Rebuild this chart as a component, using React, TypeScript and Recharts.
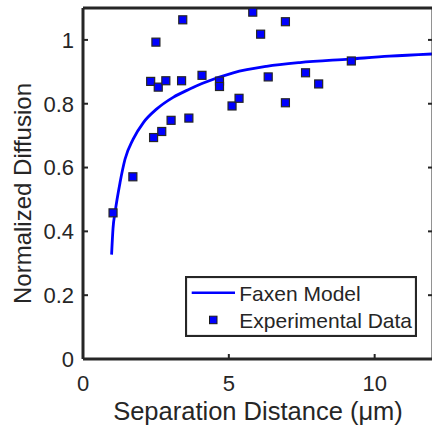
import React from 'react';
import { ComposedChart, Line, Scatter, XAxis, YAxis, Legend } from 'recharts';

// Faxen model curve
const curveX = [0.98, 1.03, 1.1, 1.27, 1.44, 1.72, 2.07, 2.52, 3.09, 3.66, 4.1, 5.15, 6.29, 7.43, 9.14, 10.5, 12];
const curveY = [0.327, 0.41, 0.46, 0.553, 0.626, 0.689, 0.741, 0.783, 0.82, 0.846, 0.864, 0.897, 0.917, 0.929, 0.94, 0.949, 0.956];

// Experimental data
const expX = [2.5, 3.42, 5.82, 6.09, 6.94, 2.32, 2.58, 2.84, 3.38, 4.08, 4.68, 4.68, 6.35, 7.63, 8.08, 9.2, 5.11, 5.35, 6.94, 3.63, 3.02, 2.7, 2.42, 1.71, 1.03];
const expY = [0.993, 1.063, 1.087, 1.018, 1.057, 0.87, 0.852, 0.872, 0.872, 0.889, 0.871, 0.854, 0.884, 0.897, 0.862, 0.934, 0.793, 0.817, 0.803, 0.755, 0.748, 0.713, 0.694, 0.571, 0.458];

const xTicks = [0, 5, 10];
const yTicks = [0, 0.2, 0.4, 0.6, 0.8, 1];

const curve = curveX.map((x, i) => ({ x, y: curveY[i] }));
const points = expX.map((x, i) => ({ x, y: expY[i] }));

const AX = '#262626';
const FONT = '"Liberation Sans", Arial, Helvetica, sans-serif';

const Square = (props: any) => {
  const { cx, cy } = props;
  if (cx == null || cy == null) return null;
  return <rect x={cx - 4} y={cy - 4} width={8} height={8} fill="#0000ff" stroke="#262626" strokeWidth={1.2} />;
};

const YLabel = (props: any) => {
  const vb = props.viewBox || { x: 0, y: 8, width: 83, height: 351 };
  const cx = vb.x + 31;
  const cy = vb.y + vb.height / 2 + 10;
  return (
    <text transform={`translate(${cx},${cy}) rotate(-90)`} textAnchor="middle" fill={AX} fontSize={24} fontFamily={FONT}>
      Normalized Diffusion
    </text>
  );
};

const renderLegend = () => (
  <svg width={232} height={61} style={{ display: 'block', fontFamily: FONT }}>
    <rect x={1} y={1} width={230} height={59} fill="#fff" stroke={AX} strokeWidth={2.2} />
    <line x1={6.7} x2={50} y1={16.7} y2={16.7} stroke="#0000ff" strokeWidth={2.5} />
    <text x={54.3} y={24.7} fontSize={21} fill={AX}>Faxen Model</text>
    <rect x={24.5} y={40.2} width={7.5} height={7.5} fill="#0000ff" stroke="#1a1a1a" strokeWidth={1} />
    <text x={54.3} y={52} fontSize={21} fill={AX}>Experimental Data</text>
  </svg>
);

export default function App() {
  return (
    <div style={{ position: 'absolute', left: 0, top: 0, width: 432, height: 433, overflow: 'hidden', background: '#fff', fontFamily: FONT }}>
      <ComposedChart width={434} height={433} margin={{ top: 7, right: 0, bottom: 0, left: 0 }}>
        <XAxis
          xAxisId="b"
          dataKey="x"
          type="number"
          domain={[0, 12]}
          ticks={xTicks}
          allowDataOverflow
          height={74}
          tickSize={-5}
          tickMargin={21}
          stroke={AX}
          axisLine={{ strokeWidth: 3 }}
          tickLine={{ strokeWidth: 2 }}
          tick={{ fill: AX, fontSize: 22, fontFamily: FONT }}
          label={{ value: 'Separation Distance (μm)', position: 'insideBottom', offset: 13, fill: AX, fontSize: 25.5, fontFamily: FONT }}
        />
        <XAxis
          xAxisId="t"
          orientation="top"
          type="number"
          domain={[0, 12]}
          ticks={xTicks}
          allowDataOverflow
          height={1}
          tickSize={-5}
          stroke={AX}
          axisLine={{ strokeWidth: 3 }}
          tickLine={{ strokeWidth: 2 }}
          tickFormatter={() => ''}
        />
        <YAxis
          yAxisId="l"
          type="number"
          domain={[0, 1.1]}
          ticks={yTicks}
          allowDataOverflow
          width={83}
          tickSize={-5}
          tickMargin={14}
          stroke={AX}
          axisLine={{ strokeWidth: 3 }}
          tickLine={{ strokeWidth: 2 }}
          tick={{ fill: AX, fontSize: 22, fontFamily: FONT }}
          label={YLabel}
        />
        <YAxis
          yAxisId="r"
          orientation="right"
          type="number"
          domain={[0, 1.1]}
          ticks={yTicks}
          allowDataOverflow
          width={1}
          tickSize={-5}
          stroke={AX}
          axisLine={{ strokeWidth: 3 }}
          tickLine={{ strokeWidth: 2 }}
          tickFormatter={() => ''}
        />
        <Line
          xAxisId="b"
          yAxisId="l"
          data={curve}
          dataKey="y"
          type="monotone"
          stroke="#0000ff"
          strokeWidth={2.8}
          dot={false}
          activeDot={false}
          isAnimationActive={false}
          legendType="line"
          name="Faxen Model"
        />
        <Scatter
          xAxisId="b"
          yAxisId="l"
          data={points}
          dataKey="y"
          shape={Square}
          isAnimationActive={false}
          name="Experimental Data"
        />
        <Legend
          layout="vertical"
          align="center"
          verticalAlign="middle"
          content={renderLegend}
          wrapperStyle={{ left: 185, top: 276, width: 232, height: 61 }}
        />
      </ComposedChart>
    </div>
  );
}
